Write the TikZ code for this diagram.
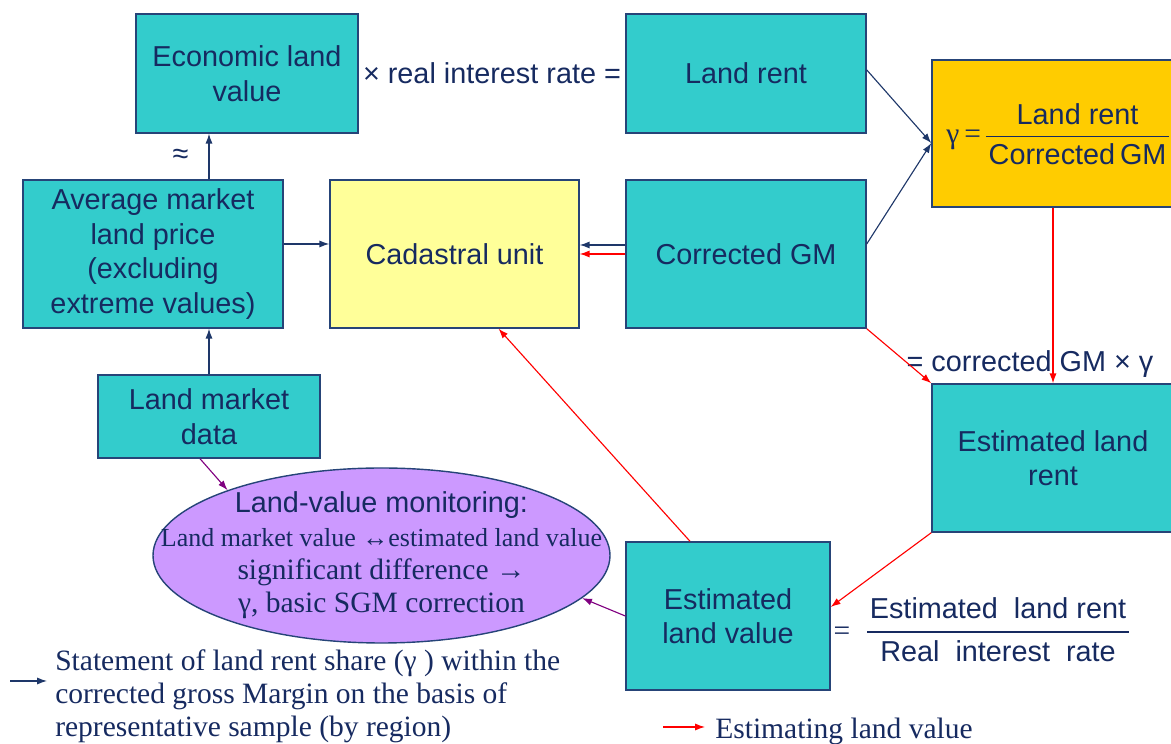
\documentclass[tikz,border=0pt]{standalone}
\usepackage{fontspec}
\setmainfont{Liberation Serif}
\setsansfont{Liberation Sans}
\usetikzlibrary{calc,positioning,arrows.meta,shapes.geometric}

\definecolor{tealfill}{RGB}{51,204,204}
\definecolor{cadfill}{RGB}{255,255,153}
\definecolor{gamfill}{RGB}{255,204,0}
\definecolor{monfill}{RGB}{204,153,255}
\definecolor{ink}{RGB}{22,42,96}
\definecolor{edge}{RGB}{38,68,120}
\definecolor{navyline}{RGB}{30,55,105}
\definecolor{plum}{RGB}{128,0,128}

\newcommand{\boxfont}{\sffamily\fontsize{20.5}{24.6}\selectfont}
\newcommand{\notefont}{\rmfamily\fontsize{21}{23.8}\selectfont}
\newcommand{\landfrac}[3][1.2]{\renewcommand{\arraystretch}{#1}\setlength{\arrayrulewidth}{0.9pt}\setlength{\tabcolsep}{2pt}\begin{tabular}{c}#2\\\hline #3\end{tabular}}

\tikzset{
  box/.style={draw=edge, line width=1pt, fill=tealfill, text=ink, font=\boxfont, align=center, inner sep=0pt},
  navyarrow/.style={draw=navyline, line width=0.8pt, -{Latex[length=7pt,width=5pt]}},
  redarrow/.style={draw=red, line width=0.8pt, -{Latex[length=7pt,width=5pt]}},
  plumarrow/.style={draw=plum, line width=0.8pt, -{Latex[length=7pt,width=5pt]}}
}

\begin{document}
\begin{tikzpicture}
  \useasboundingbox (0,0) rectangle (29.275,18.6);
  \clip (0,0) rectangle (29.275,18.6);

  \node[box, minimum width=5.55cm, minimum height=2.975cm] (econ) at (6.175,16.7625) {Economic land\\value};
  \node[box, minimum width=6cm, minimum height=2.975cm] (rent) at (18.65,16.7625) {Land rent};
  \node[box, fill=gamfill, minimum width=6.05cm, minimum height=3.675cm] (gam) at (26.325,15.2625) {};
  \node[text=ink, font=\boxfont, inner sep=0pt] (gamtext) at ([xshift=0.12cm,yshift=-0.08cm]gam.center)
       {{\rmfamily\fontsize{21}{22}\selectfont γ\,=\,}\landfrac[1.12]{Land rent}{Corrected\,GM}};
  \node[box, minimum width=6.5cm, minimum height=3.7cm] (avg) at (3.825,12.25) {Average market\\land price\\(excluding\\extreme values)};
  \node[box, fill=cadfill, minimum width=6.225cm, minimum height=3.7cm] (cad) at (11.3625,12.25) {Cadastral unit};
  \node[box, minimum width=6cm, minimum height=3.7cm] (cgm) at (18.65,12.25) {Corrected GM};
  \node[box, minimum width=5.55cm, minimum height=2.075cm] (lmd) at (5.225,8.1875) {Land market\\data};
  \node[box, minimum width=6.05cm, minimum height=3.7cm] (elr) at (26.325,7.15) {Estimated land\\rent};
  \node[box, minimum width=5.1cm, minimum height=3.7cm] (elv) at (18.2,3.2) {Estimated\\land value};
  \node[ellipse, draw=edge, line width=1pt, fill=monfill, minimum width=11.425cm, minimum height=4.375cm, inner sep=0pt] (mon) at (9.5375,4.7125) {};
  \node[text=ink, font=\notefont, align=center, inner sep=0pt] (montext) at (mon.center)
       {{\boxfont Land-value monitoring:}\\{\fontsize{18.5}{22}\selectfont Land market value ↔estimated land value}\\significant difference →\\γ, basic SGM correction};

  \node[text=ink, font=\boxfont] (mult) at ($(econ.east)!0.5!(rent.west)$) {× real interest rate =};
  \node[text=ink, font=\boxfont] (cgmnote) at (25.75,9.5) {= corrected GM × γ};
  \node[text=ink, font=\notefont] (eq) at (21.05,2.75) {=};
  \node[text=ink, font=\boxfont] (elvfrac) at (24.95,2.8) {\landfrac{Estimated\ \ land rent}{Real\ \ interest\ \ rate}};

  \draw[navyarrow] (lmd.north) -- (avg.south -| lmd.north);
  \draw[navyarrow] (avg.north -| lmd.north) -- (econ.south -| lmd.north)
       node[midway, left=0.5cm, inner sep=0pt, text=ink, font=\boxfont] (approx) {≈};
  \draw[navyarrow] ([yshift=0.25cm]avg.east) -- ([yshift=0.25cm]cad.west);
  \draw[navyarrow] ([yshift=0.225cm]cgm.west) -- ([yshift=0.225cm]cad.east);
  \draw[redarrow] (cgm.west) -- (cad.east);
  \draw[navyarrow] ([yshift=0.09cm]rent.east) -- ([yshift=-0.24cm]gam.west);
  \draw[navyarrow] ([yshift=0.25cm]cgm.east) -- ([yshift=-0.24cm]gam.west);
  \draw[redarrow] (cgm.south east) -- (elr.north west);
  \draw[redarrow] (gam.south) -- (elr.north);
  \draw[redarrow] (elr.south west) -- ([yshift=0.225cm]elv.east);
  \draw[redarrow] ([xshift=-0.95cm]elv.north) -- ([xshift=1.1cm]cad.south);
  \draw[plumarrow] ([xshift=-0.225cm]lmd.south) -- (mon.157);
  \draw[plumarrow] (elv.west) -- (mon.-12);

  % legend
  \node[text=ink, font=\notefont, align=left, anchor=north west, inner sep=0pt] (note1) at (1.375,2.375)
       {Statement of land rent share (γ ) within the\\corrected gross Margin on the basis of\\representative sample (by region)};
  \coordinate (navykey) at (0.25,1.575);
  \coordinate (navytip) at (1.175,1.575);
  \draw[navyarrow] (navykey) -- (navytip);
  \node[text=ink, font=\notefont, anchor=base west, inner sep=0pt] (note2) at (17.875,0.125) {Estimating land value};
  \coordinate (redkey) at (16.575,0.425);
  \draw[redarrow] (redkey) -- ([xshift=-0.25cm]note2.west |- redkey);
\end{tikzpicture}
\end{document}
